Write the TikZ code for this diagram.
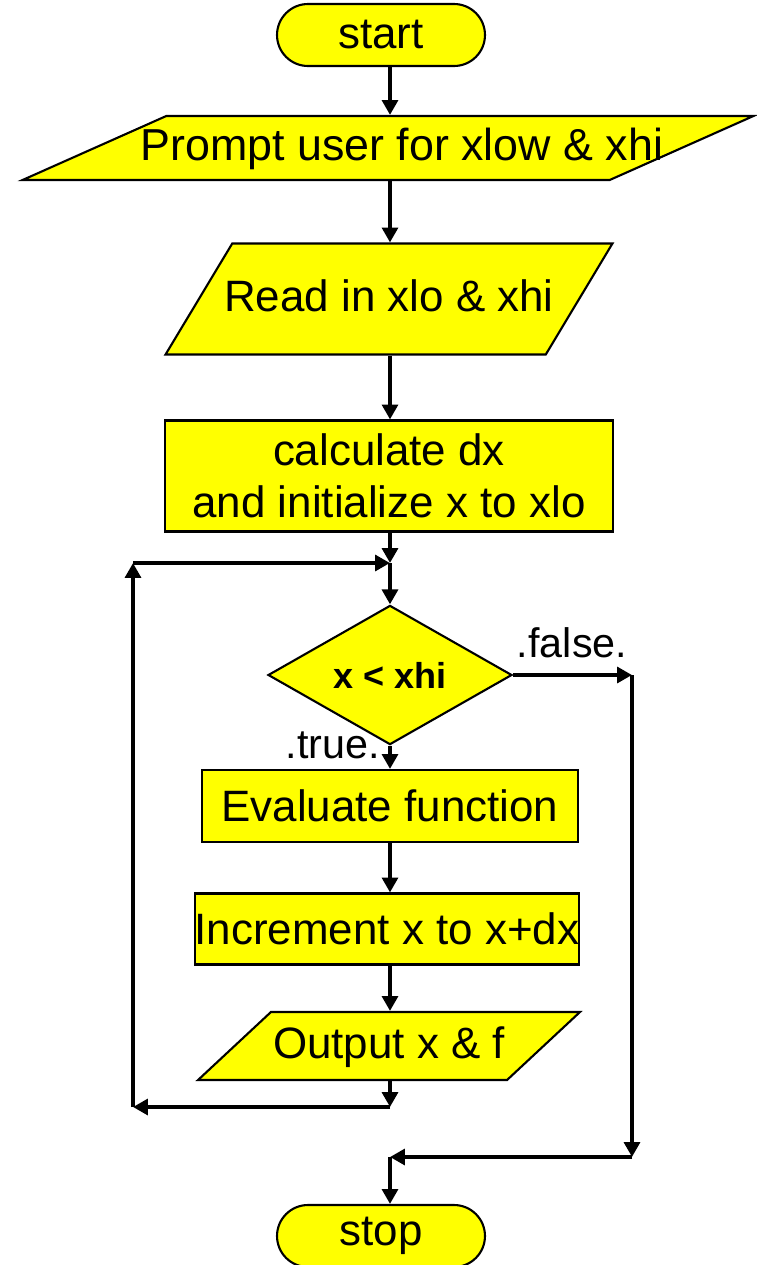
\documentclass[tikz,border=0pt]{standalone}
\usepackage{fontspec}
\setmainfont{Liberation Sans}
\usetikzlibrary{shapes.geometric,arrows.meta}

\definecolor{flowyellow}{RGB}{255,255,0}
\tikzset{
  flowbox/.style={draw=black,line width=1.2pt,fill=flowyellow,inner sep=0pt,
    font=\fontsize{25}{29.6}\selectfont,align=center},
  terminal/.style={flowbox,rounded corners=0.62cm,minimum width=4.16cm,minimum height=1.24cm},
  iobox/.style={flowbox,trapezium,trapezium stretches=true,trapezium stretches body=true,
    inner xsep=-1.5cm,text height=0.66cm,text depth=0.18cm},
  decision/.style={flowbox,diamond,font=\fontsize{20.5}{24}\selectfont\bfseries},
  flowarrow/.style={line width=2.6pt,-{Triangle[length=8.5pt,width=9pt]}},
  flowlabel/.style={font=\fontsize{23.5}{28}\selectfont,inner sep=0pt}
}

\begin{document}
\begin{tikzpicture}[x=0.02cm,y=-0.02cm]
  \useasboundingbox (0,0) rectangle (757,1265);
  % main axis of the chart
  \coordinate (axis) at (390,0);

  \node[terminal] (start) at (381,35) {start};
  \node[iobox,trapezium left angle=24,trapezium right angle=156,inner ysep=0.22cm,
    minimum width=14.62cm,font=\fontsize{25.5}{29.6}\selectfont] (prompt) at (388,148)
    {\hspace*{0.55cm}Prompt user for xlow \& xhi};
  \node[iobox,trapezium left angle=59,trapezium right angle=121,inner ysep=0.69cm,
    minimum width=8.94cm] (read) at (389,299)
    {Read in xlo \& xhi};
  \node[flowbox,minimum width=8.96cm,minimum height=2.22cm] (calc) at (389,476)
    {calculate dx\\and initialize x to xlo};
  \node[decision,minimum width=4.88cm,minimum height=2.42cm] (cond) at (390,675) {x < xhi};
  \node[flowbox,minimum width=7.52cm,minimum height=1.44cm] (eval) at (390,806)
    {Evaluate function};
  \node[flowbox,minimum width=7.54cm,minimum height=1.42cm] (incr) at (387,929)
    {Increment x to x+dx};
  \node[iobox,trapezium left angle=43,trapezium right angle=137,inner ysep=0.26cm,
    minimum width=7.64cm] (output) at (389,1046)
    {Output x \& f};
  \node[terminal] (stop) at (381,1236) {stop};

  \node[flowlabel] (falselbl) at (572,643) {.false.};
  \node[flowlabel] (truelbl) at (333,745) {.true.};

  % corners of the loop and of the exit path
  \coordinate (merge) at (390,563);
  \coordinate (back) at (390,1107);
  \coordinate (backl) at (133,1107);
  \coordinate (backt) at (133,563);
  \coordinate (exitr) at (632,675);
  \coordinate (exitb) at (632,1157);
  \coordinate (join) at (390,1157);

  \draw[flowarrow] (start.south -| axis) -- (prompt.north -| axis);
  \draw[flowarrow] (prompt.south -| axis) -- (read.north -| axis);
  \draw[flowarrow] (read.south -| axis) -- (calc.north -| axis);
  \draw[flowarrow] (calc.south -| axis) -- (merge);
  \draw[flowarrow] (merge) -- (cond.north);
  \draw[flowarrow] (cond.south) -- (eval.north -| axis);
  \draw[flowarrow] (eval.south -| axis) -- (incr.north -| axis);
  \draw[flowarrow] (incr.south -| axis) -- (output.north -| axis);
  \draw[flowarrow] (output.south -| axis) -- (back);
  \draw[flowarrow] (back) -- (backl);
  \draw[flowarrow] (backl) -- (backt);
  \draw[flowarrow] (backt) -- (merge);
  \draw[flowarrow] (cond.east) -- (exitr);
  \draw[flowarrow] (exitr) -- (exitb);
  \draw[flowarrow] (exitb) -- (join);
  \draw[flowarrow] (join) -- (stop.north -| axis);
\end{tikzpicture}
\end{document}
